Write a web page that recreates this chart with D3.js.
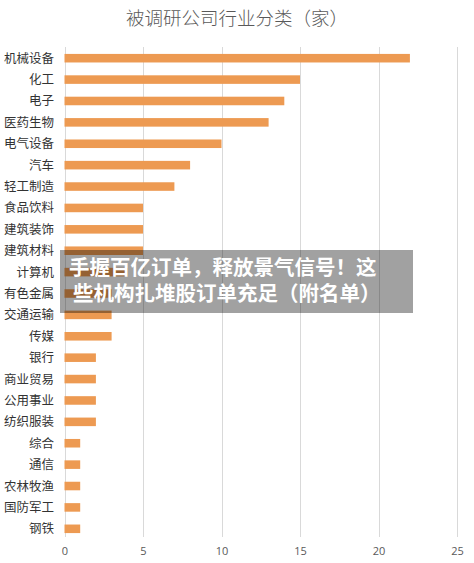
<!DOCTYPE html>
<html><head><meta charset="utf-8">
<script src="https://cdn.jsdelivr.net/npm/d3@7"></script>
<style>
body{margin:0;background:#fff;}
svg{display:block;font-family:"Noto Sans CJK SC","Noto Sans",sans-serif;}
</style></head>
<body><svg id="c" width="474" height="563"></svg>
<script>
const categories = ["机械设备","化工","电子","医药生物","电气设备","汽车","轻工制造","食品饮料","建筑装饰","建筑材料","计算机","有色金属","交通运输","传媒","银行","商业贸易","公用事业","纺织服装","综合","通信","农林牧渔","国防军工","钢铁"];
const counts = [22,15,14,13,10,8,7,5,5,5,4,3,3,3,2,2,2,2,1,1,1,1,1];
const xTicks = [0,5,10,15,20,25];
const title = "被调研公司行业分类（家）";
const overlayLines = ["手握百亿订单，释放景气信号！这","些机构扎堆股订单充足（附名单）"];

const svg = d3.select("#c");
const x = d3.scaleLinear().domain([0,25]).range([64.5,457]);
const y = d3.scaleBand().domain(categories).range([47.5,539.5]).paddingInner(0.6).paddingOuter(0.3);

svg.append("text").attr("x",237).attr("y",25).attr("text-anchor","middle")
  .attr("font-size",18.5).attr("fill","#595959").attr("font-weight",300).text(title);

// gridlines
svg.append("g").selectAll("line").data(xTicks).join("line")
  .attr("x1",d=>Math.round(x(d))+0.5).attr("x2",d=>Math.round(x(d))+0.5)
  .attr("y1",47).attr("y2",537).attr("stroke","#d9d9d9").attr("stroke-width",1);

// bars
svg.append("g").selectAll("rect").data(categories).join("rect")
  .attr("x",x(0)).attr("y",d=>y(d)).attr("height",y.bandwidth())
  .attr("width",(d,i)=>x(counts[i])-x(0)).attr("fill","#ED9A52");

// category axis labels
svg.append("g").selectAll("text").data(categories).join("text")
  .attr("x",54).attr("y",d=>y(d)+y.bandwidth()/2).attr("dy","0.36em")
  .attr("text-anchor","end").attr("font-size",12.5).attr("fill","#333").text(d=>d);

// x axis tick labels
const xa = svg.append("g").attr("transform","translate(0,541)")
  .call(d3.axisBottom(x).tickValues(xTicks).tickSize(0).tickPadding(6));
xa.select(".domain").remove();
xa.selectAll("text").attr("font-size",11).attr("fill","#595959")
  .attr("font-family","'Open Sans','DejaVu Sans',sans-serif");

// overlay banner
svg.append("rect").attr("x",60).attr("y",250).attr("width",353).attr("height",63)
  .attr("fill","rgba(0,0,0,0.37)");
svg.append("g").selectAll("text").data(overlayLines).join("text")
  .attr("x",(d,i)=>i===0?69:73).attr("y",(d,i)=>275+i*26)
  .attr("font-size",20.5).attr("font-weight",700).attr("fill","#fff").text(d=>d);
</script></body></html>
